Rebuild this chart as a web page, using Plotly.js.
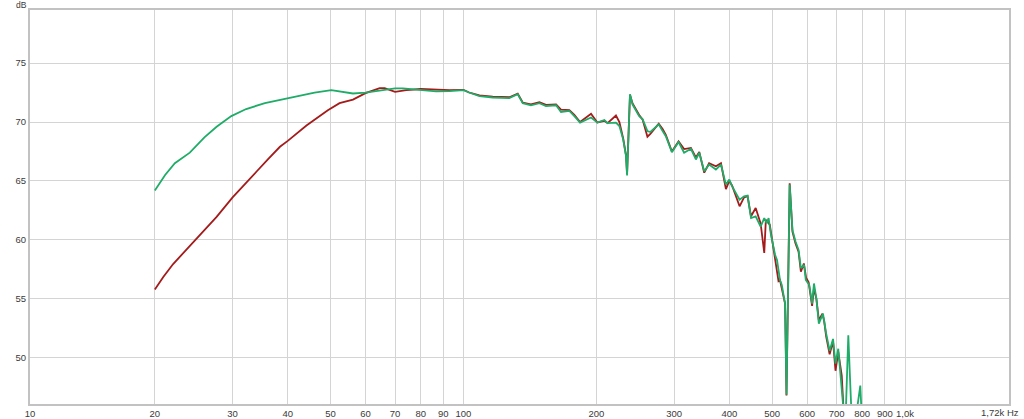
<!DOCTYPE html>
<html>
<head>
<meta charset="utf-8">
<script src="https://cdn.plot.ly/plotly-3.0.1.min.js"></script>
<style>html,body{margin:0;padding:0;background:#fff;}#chart{width:1024px;height:419px;}</style>
</head>
<body>
<div id="chart"></div>
<script>
// Frequency (Hz) and level (dB)
const redFreq = [20, 20.9, 22.0, 23.2, 24.8, 26.2, 27.6, 30, 32.0, 34.0, 36.1, 38.4, 40, 44.1, 49.3,
  52.4, 56.2, 60, 64.6, 66.3, 70, 74.2, 80, 86.7, 93,
  100, 103, 108.7, 116.5, 127, 132.7, 136.2, 142.2, 148.6, 153.8,
  162.1, 166.3, 173.7, 178.3, 183.7, 194.5, 201, 208.5, 212, 221.5,
  225.5, 230, 233.4, 234.7, 238.3, 241.4, 250, 254.6, 261, 265,
  276.8, 282.5, 287.3, 296.5, 307, 316, 327.5, 336, 342, 351,
  360, 373, 383, 393, 400, 406, 422, 432, 440, 448,
  459, 471, 480, 484, 494, 498, 507, 517, 521, 535,
  539, 548, 556, 565, 574, 581, 590, 597, 605, 616,
  622, 630, 638, 650, 656, 663, 675, 687, 696, 706,
  719, 726];
const redDb = [55.8, 56.85, 57.95, 58.9, 60.1, 61.0, 61.95, 63.6, 64.7, 65.8, 66.85, 67.9, 68.4, 69.7, 71.0,
  71.6, 71.9, 72.45, 72.87, 72.87, 72.56, 72.7, 72.8, 72.73, 72.7,
  72.73, 72.5, 72.25, 72.15, 72.1, 72.4, 71.65, 71.5, 71.68, 71.45,
  71.5, 71.05, 71.0, 70.6, 70.0, 70.7, 69.95, 70.1, 69.9, 70.55,
  70.0, 68.6, 67.2, 65.6, 72.3, 71.6, 70.6, 70.2, 68.75, 69.0,
  69.85, 69.4, 68.9, 67.5, 68.35, 67.7, 67.8, 67.0, 67.45, 65.7,
  66.5, 66.25, 66.5, 64.3, 65.0, 64.6, 62.85, 63.6, 63.7, 62.0,
  62.7, 61.4, 58.9, 61.7, 61.3, 60.5, 58.8, 56.5, 56.6, 54.6,
  46.8, 64.8, 60.7, 59.7, 59.0, 57.3, 58.0, 56.8, 56.4, 54.4,
  55.9, 55.0, 53.2, 53.75, 53.1, 51.8, 50.3, 51.4, 48.9, 50.5,
  48.5, 45.5];

const greenFreq = [20, 21.1, 22.2, 24.0, 25.9, 27.6, 29.8, 32.2, 35.5, 40,
  41.8, 46.0, 50.2, 53.3, 56.2, 60, 64.6, 70, 72.9, 80,
  86.7, 93, 100, 103, 108.7, 116.5, 127, 132.7, 136.2, 142.2,
  148.6, 153.8, 162.1, 166.3, 173.7, 178.3, 183.7, 194.5, 201, 208.5,
  212, 221.5, 225.5, 230, 233.4, 234.7, 238.3, 241.4, 250, 254.6,
  261, 265, 276.8, 282.5, 287.3, 296.5, 307, 316, 327.5, 336,
  342, 351, 360, 373, 383, 393, 400, 406, 422, 432,
  440, 448, 459, 471, 476, 480, 486, 491, 497, 508,
  513, 521, 526, 535, 539, 548, 556, 565, 574, 581,
  591, 596, 607, 616, 622, 630, 638, 652, 663, 675,
  687, 696, 706, 719, 726, 735, 744, 751, 756, 775,
  781, 792, 797, 810];
const greenDb = [64.2, 65.5, 66.5, 67.4, 68.7, 69.6, 70.5, 71.1, 71.6, 72.0,
  72.2, 72.5, 72.7, 72.56, 72.42, 72.5, 72.64, 72.85, 72.85, 72.73,
  72.6, 72.62, 72.7, 72.5, 72.2, 72.08, 72.02, 72.36, 71.6, 71.42,
  71.6, 71.36, 71.42, 70.85, 70.94, 70.5, 69.95, 70.38, 69.95, 70.17,
  69.9, 69.95, 69.66, 68.53, 67.1, 65.46, 72.36, 71.5, 70.5, 70.23,
  69.23, 69.15, 69.8, 69.23, 68.8, 67.44, 68.3, 67.39, 67.73, 66.82,
  67.39, 65.82, 66.39, 65.97, 66.39, 64.69, 65.12, 64.54, 63.41, 63.69,
  63.75, 61.85, 61.99, 61.13, 61.6, 61.85, 61.42, 61.85, 60.45, 58.72,
  58.3, 56.6, 56.17, 54.6, 46.87, 64.7, 60.85, 59.86, 59.15, 57.6,
  57.87, 56.6, 56.17, 54.6, 56.3, 55.0, 52.9, 53.75, 52.04, 50.6,
  51.6, 49.5, 50.77, 47.8, 45.5, 45.8, 51.9, 48.1, 45.5, 45.5,
  46.0, 47.64, 45.5, 45.5];

const xTickVals = [10.43, 20, 30, 40, 50, 60, 70, 80, 90, 100, 200, 300, 400, 500, 600, 700, 800, 900, 1000, 1720];
const xTickText = ['10', '20', '30', '40', '50', '60', '70', '80', '90', '100', '200', '300', '400', '500', '600', '700', '800', '900', '1,0k', ''];
const yTickVals = [50, 55, 60, 65, 70, 75];

const font = {family: 'Liberation Sans, Arial, sans-serif', size: 9.5, color: '#3a3a3a'};
const smallFont = {family: 'Liberation Sans, Arial, sans-serif', size: 8.5, color: '#3a3a3a'};

const traces = [
  {x: redFreq, y: redDb, type: 'scatter', mode: 'lines', line: {color: '#a31b1b', width: 1.8}, hoverinfo: 'skip'},
  {x: greenFreq, y: greenDb, type: 'scatter', mode: 'lines', line: {color: '#1fac68', width: 1.8}, hoverinfo: 'skip'}
];

const layout = {
  width: 1024, height: 419,
  margin: {l: 30, r: 15, t: 10, b: 15},
  paper_bgcolor: '#ffffff', plot_bgcolor: '#ffffff',
  showlegend: false,
  font: font,
  xaxis: {
    type: 'log', range: [Math.log10(10.43), Math.log10(1720)],
    tickmode: 'array', tickvals: xTickVals, ticktext: xTickText,
    showgrid: true, gridcolor: '#d4d4d4', gridwidth: 1,
    ticks: '', ticklen: 0,
    showline: true, linecolor: '#c2c2c2', linewidth: 2, mirror: true,
    zeroline: false, tickfont: font
  },
  yaxis: {
    range: [46.08, 79.5],
    tickmode: 'array', tickvals: yTickVals,
    showgrid: true, gridcolor: '#d4d4d4', gridwidth: 1,
    ticks: '', ticklen: 0,
    showline: true, linecolor: '#c2c2c2', linewidth: 2, mirror: true,
    zeroline: false, tickfont: font
  },
  annotations: [
    {text: 'dB', xref: 'paper', yref: 'paper', x: 0, y: 1, xanchor: 'right', yanchor: 'middle',
     xshift: -2, yshift: 5, borderpad: 0, showarrow: false, font: smallFont},
    {text: '1,72k Hz', xref: 'paper', yref: 'paper', x: 1, y: 0, xanchor: 'right', yanchor: 'top',
     xshift: 12, yshift: -1, showarrow: false, font: font}
  ]
};

Plotly.newPlot('chart', traces, layout, {displayModeBar: false, staticPlot: true});
</script>
</body>
</html>
